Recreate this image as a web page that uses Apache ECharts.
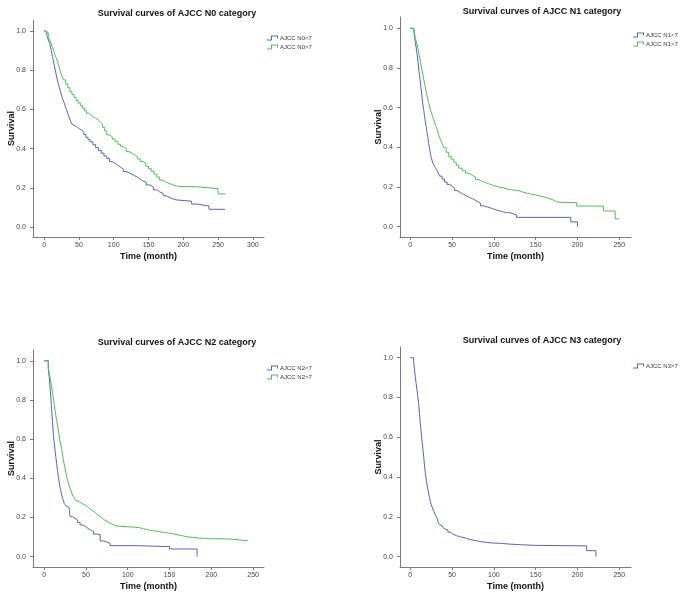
<!DOCTYPE html>
<html>
<head>
<meta charset="utf-8">
<script src="https://cdn.jsdelivr.net/npm/echarts@6/dist/echarts.min.js"></script>
<style>
  html, body { margin: 0; background: #fff; }
  #chart { width: 683px; height: 600px; }
</style>
</head>
<body>
<div id="chart"></div>
<script>
const BLUE = '#5566b2'
const GREEN = '#52bd58'
const FONT = '"Liberation Sans", Arial, sans-serif'

// Kaplan-Meier curves: time in months, survival 0..1
const n0LowTime = [0, 2, 4, 6, 8, 10, 12, 14, 16, 18, 20, 22, 24, 26, 28, 30, 32, 34, 36, 38, 40, 42, 45, 48, 51, 54, 57, 60, 63, 66, 70, 74, 78, 82, 86, 90, 94, 98, 102, 106, 110, 114, 118, 122, 126, 130, 134, 138, 142, 147, 152, 157, 162, 166, 171, 176, 181, 185, 190, 212, 219, 237, 260]
const n0LowSurv = [1.0, 0.99, 0.975, 0.955, 0.936, 0.905, 0.87, 0.835, 0.80, 0.765, 0.735, 0.71, 0.685, 0.66, 0.64, 0.62, 0.60, 0.58, 0.56, 0.54, 0.525, 0.515, 0.508, 0.50, 0.495, 0.485, 0.472, 0.458, 0.446, 0.435, 0.42, 0.405, 0.39, 0.377, 0.362, 0.35, 0.334, 0.325, 0.315, 0.305, 0.295, 0.283, 0.277, 0.27, 0.262, 0.255, 0.245, 0.235, 0.228, 0.215, 0.205, 0.19, 0.18, 0.172, 0.16, 0.15, 0.144, 0.139, 0.132, 0.118, 0.108, 0.091, 0.091]
const n0HighTime = [0, 3, 6, 8, 10, 12, 14, 16, 18, 20, 22, 24, 26, 28, 31, 34, 37, 40, 43, 46, 49, 52, 55, 58, 61, 64, 67, 70, 74, 78, 81, 84, 87, 90, 94, 98, 102, 106, 110, 114, 118, 122, 126, 130, 134, 138, 142, 146, 150, 154, 158, 162, 166, 170, 174, 178, 182, 186, 190, 195, 219, 250, 261]
const n0HighSurv = [1.0, 0.99, 0.97, 0.954, 0.935, 0.915, 0.895, 0.875, 0.855, 0.835, 0.81, 0.785, 0.765, 0.75, 0.73, 0.71, 0.69, 0.675, 0.66, 0.645, 0.632, 0.62, 0.607, 0.593, 0.58, 0.572, 0.563, 0.555, 0.545, 0.535, 0.525, 0.508, 0.49, 0.47, 0.46, 0.448, 0.435, 0.422, 0.41, 0.40, 0.385, 0.377, 0.368, 0.36, 0.348, 0.335, 0.325, 0.31, 0.298, 0.285, 0.27, 0.255, 0.24, 0.232, 0.225, 0.22, 0.214, 0.21, 0.207, 0.206, 0.196, 0.169, 0.169]

const n1LowTime = [0, 4, 5, 6, 7, 8, 9, 10, 11, 12, 13, 14, 15, 16, 17, 18, 19, 20, 21, 22, 23, 24, 25, 27, 29, 31, 33, 35, 38, 41, 44, 47, 50, 53, 56, 60, 64, 68, 72, 76, 80, 84, 88, 93, 98, 103, 110, 115, 119, 123, 127, 192, 200]
const n1LowSurv = [1.0, 0.99, 0.96, 0.93, 0.905, 0.875, 0.84, 0.80, 0.765, 0.73, 0.695, 0.655, 0.62, 0.59, 0.56, 0.53, 0.505, 0.475, 0.45, 0.42, 0.395, 0.37, 0.35, 0.32, 0.305, 0.29, 0.275, 0.255, 0.24, 0.225, 0.213, 0.205, 0.195, 0.182, 0.172, 0.162, 0.153, 0.145, 0.138, 0.128, 0.118, 0.105, 0.098, 0.092, 0.084, 0.076, 0.071, 0.071, 0.065, 0.059, 0.047, 0.024, 0.0]
const n1HighTime = [0, 4, 6, 8, 10, 12, 14, 16, 18, 20, 22, 24, 26, 28, 30, 32, 34, 36, 38, 40, 43, 46, 49, 52, 55, 58, 62, 66, 70, 74, 78, 82, 86, 91, 96, 101, 106, 111, 116, 121, 127, 131, 135, 140, 145, 150, 155, 160, 165, 171, 175, 179, 199, 231, 245, 250]
const n1HighSurv = [1.0, 0.99, 0.95, 0.92, 0.88, 0.835, 0.79, 0.745, 0.70, 0.66, 0.625, 0.59, 0.565, 0.54, 0.515, 0.49, 0.462, 0.44, 0.42, 0.398, 0.375, 0.353, 0.34, 0.325, 0.31, 0.295, 0.282, 0.27, 0.26, 0.25, 0.238, 0.228, 0.22, 0.213, 0.206, 0.2, 0.196, 0.19, 0.186, 0.183, 0.18, 0.174, 0.168, 0.164, 0.16, 0.155, 0.15, 0.143, 0.135, 0.126, 0.123, 0.121, 0.104, 0.079, 0.039, 0.039]

const n2LowTime = [0, 5, 6, 7, 8, 9, 10, 11, 12, 13, 14, 15, 16, 17, 18, 19, 20, 21, 22, 24, 26, 28, 30, 31, 34, 37, 40, 43, 46, 49, 52, 55, 59, 63, 67, 71, 75, 79, 109, 150, 183]
const n2LowSurv = [1.0, 0.96, 0.92, 0.87, 0.81, 0.75, 0.69, 0.63, 0.585, 0.545, 0.51, 0.475, 0.44, 0.41, 0.38, 0.355, 0.335, 0.315, 0.3, 0.272, 0.26, 0.25, 0.245, 0.204, 0.195, 0.187, 0.175, 0.162, 0.155, 0.145, 0.138, 0.128, 0.115, 0.112, 0.08, 0.075, 0.068, 0.056, 0.051, 0.039, 0.0]
const n2HighTime = [0, 5, 7, 9, 11, 13, 15, 17, 19, 21, 23, 25, 27, 29, 31, 33, 35, 37, 39, 42, 45, 48, 51, 54, 57, 60, 63, 66, 69, 72, 75, 79, 83, 87, 109, 114, 119, 125, 131, 137, 143, 149, 155, 161, 167, 173, 179, 185, 194, 221, 244]
const n2HighSurv = [1.0, 0.96, 0.92, 0.867, 0.81, 0.748, 0.695, 0.646, 0.59, 0.55, 0.493, 0.45, 0.408, 0.375, 0.349, 0.325, 0.306, 0.29, 0.28, 0.272, 0.266, 0.257, 0.247, 0.238, 0.228, 0.218, 0.208, 0.198, 0.188, 0.18, 0.17, 0.163, 0.156, 0.15, 0.148, 0.142, 0.136, 0.132, 0.128, 0.124, 0.12, 0.116, 0.11, 0.105, 0.1, 0.098, 0.095, 0.092, 0.09, 0.081, 0.081]

const n3HighTime = [0, 4, 5, 6, 7, 8, 9, 10, 11, 12, 13, 14, 15, 16, 17, 18, 19, 20, 21, 22, 23, 24, 26, 28, 30, 32, 34, 36, 38, 40, 42, 45, 48, 51, 55, 59, 63, 67, 71, 75, 80, 85, 91, 97, 108, 119, 133, 147, 211, 222]
const n3HighSurv = [1.0, 0.98, 0.94, 0.905, 0.87, 0.838, 0.805, 0.77, 0.72, 0.67, 0.628, 0.586, 0.545, 0.503, 0.46, 0.419, 0.39, 0.36, 0.34, 0.318, 0.297, 0.276, 0.25, 0.228, 0.21, 0.193, 0.165, 0.155, 0.148, 0.142, 0.134, 0.123, 0.113, 0.106, 0.1, 0.097, 0.092, 0.087, 0.083, 0.079, 0.075, 0.072, 0.069, 0.067, 0.063, 0.06, 0.057, 0.054, 0.03, 0.0]

const titles = [
  'Survival curves of AJCC N0 category',
  'Survival curves of AJCC N1 category',
  'Survival curves of AJCC N2 category',
  'Survival curves of AJCC N3 category'
]
const yTicks = [0, 0.2, 0.4, 0.6, 0.8, 1.0]
const xTicks300 = [0, 50, 100, 150, 200, 250, 300]
const xTicks250 = [0, 50, 100, 150, 200, 250]

// layout of the four panels (pixels), axis extents
const panels = [
  { left: 33, top: 20, width: 231, height: 217, x: [-16, 316], y: [-0.05, 1.055], xt: xTicks300, tx: 177, ty: 14, lx: 267, ly: 35 },
  { left: 400, top: 17, width: 231, height: 220, x: [-12.3, 264], y: [-0.052, 1.057], xt: xTicks250, tx: 542, ty: 12, lx: 633, ly: 32 },
  { left: 33, top: 350, width: 231, height: 217, x: [-13.3, 263], y: [-0.053, 1.055], xt: xTicks250, tx: 177, ty: 343, lx: 267, ly: 365 },
  { left: 400, top: 347, width: 231, height: 220, x: [-12.3, 264], y: [-0.052, 1.054], xt: xTicks250, tx: 542, ty: 341, lx: 633, ly: 363 }
]

const curves = [
  { name: 'AJCC N0<7', panel: 0, color: BLUE, t: n0LowTime, s: n0LowSurv },
  { name: 'AJCC N0>7', panel: 0, color: GREEN, t: n0HighTime, s: n0HighSurv },
  { name: 'AJCC N1<7', panel: 1, color: BLUE, t: n1LowTime, s: n1LowSurv },
  { name: 'AJCC N1>7', panel: 1, color: GREEN, t: n1HighTime, s: n1HighSurv },
  { name: 'AJCC N2<7', panel: 2, color: BLUE, t: n2LowTime, s: n2LowSurv },
  { name: 'AJCC N2>7', panel: 2, color: GREEN, t: n2HighTime, s: n2HighSurv },
  { name: 'AJCC N3>7', panel: 3, color: BLUE, t: n3HighTime, s: n3HighSurv }
]

// step shaped legend glyph, like SPSS
const STEP_ICON = 'path://M0,4 H4 V0 H11 V3 H10 V1 H5 V5 H0 Z'

const axisLine = { onZero: false, lineStyle: { color: '#7a7a7a', width: 1 } }
const axisTick = { length: 3, lineStyle: { color: '#7a7a7a' } }
const nameStyle = { fontFamily: FONT, fontSize: 9, fontWeight: 'bold', color: '#111' }

const option = {
  backgroundColor: '#fff',
  animation: false,
  grid: panels.map(p => ({ left: p.left, top: p.top, width: p.width, height: p.height })),
  xAxis: panels.map((p, i) => ({
    type: 'value', gridIndex: i, min: p.x[0], max: p.x[1],
    name: 'Time (month)', nameLocation: 'middle', nameGap: 15, nameTextStyle: nameStyle,
    axisLine: axisLine,
    axisTick: Object.assign({ customValues: p.xt }, axisTick),
    axisLabel: { customValues: p.xt, margin: 5, fontSize: 7, fontFamily: FONT, color: '#444' },
    splitLine: { show: false }
  })),
  yAxis: panels.map((p, i) => ({
    type: 'value', gridIndex: i, min: p.y[0], max: p.y[1],
    name: 'Survival', nameLocation: 'middle', nameGap: 17, nameMoveOverlap: false,
    nameTextStyle: nameStyle,
    axisLine: axisLine,
    axisTick: Object.assign({ customValues: yTicks }, axisTick),
    axisLabel: { customValues: yTicks, margin: 7, fontSize: 7, fontFamily: FONT, color: '#444',
      formatter: v => v.toFixed(1) },
    splitLine: { show: false }
  })),
  legend: panels.map((p, i) => ({
    left: p.lx, top: p.ly, orient: 'vertical', padding: 0,
    itemWidth: 11, itemHeight: 5, itemGap: 3,
    icon: STEP_ICON,
    itemStyle: { borderWidth: 0 },
    textStyle: { fontSize: 6, fontFamily: FONT, color: '#333', padding: [0, 0, 0, -3] },
    data: curves.filter(c => c.panel === i).map(c => c.name)
  })),
  graphic: panels.map((p, i) => ({
    type: 'text', x: p.tx, y: p.ty,
    style: { text: titles[i], textAlign: 'center', textVerticalAlign: 'middle',
      font: 'bold 9px ' + FONT, fill: '#111' }
  })),
  series: curves.map(c => ({
    type: 'line', name: c.name, step: 'end',
    xAxisIndex: c.panel, yAxisIndex: c.panel,
    showSymbol: false, symbol: 'none',
    color: c.color,
    lineStyle: { color: c.color, width: 1 },
    data: c.t.map((t, i) => [t, c.s[i]])
  }))
}

const myChart = echarts.init(document.getElementById('chart'))
myChart.setOption(option)
</script>
</body>
</html>
